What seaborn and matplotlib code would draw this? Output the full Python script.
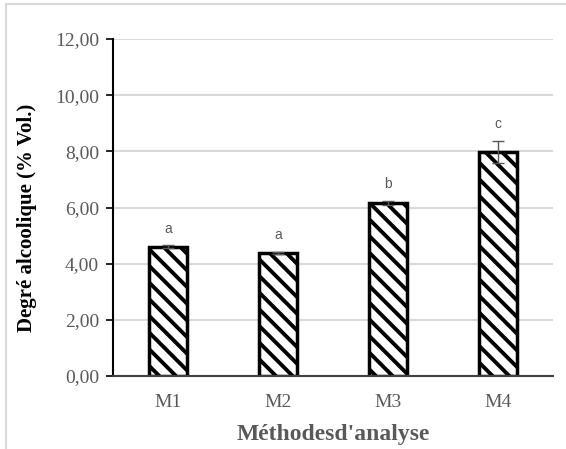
import matplotlib
matplotlib.use("Agg")
import matplotlib.pyplot as plt
from matplotlib.lines import Line2D
import seaborn as sns
import pandas as pd

# Data
methods = ["M1", "M2", "M3", "M4"]
degree = [4.60, 4.38, 6.17, 7.98]
errors = [0.05, 0.05, 0.07, 0.40]
letters = ["a", "a", "b", "c"]
yticks = [0, 2, 4, 6, 8, 10, 12]

sns.set_theme(style="white")
plt.rcParams["font.family"] = ["Liberation Serif", "DejaVu Serif"]
plt.rcParams["hatch.linewidth"] = 2.8
plt.rcParams["hatch.color"] = "black"

fig = plt.figure(figsize=(5.66, 4.49), dpi=100)
ax = fig.add_axes([0.1996, 0.1626, 0.7774, 0.7505])

df = pd.DataFrame({"method": methods, "degree": degree})
sns.barplot(data=df, x="method", y="degree", ax=ax, color="white",
            width=0.35, edgecolor="black", linewidth=2.5, errorbar=None)
for p in ax.patches:
    p.set_hatch("\\\\")
    p.set_facecolor("white")

ax.errorbar(range(len(methods)), degree, yerr=errors, fmt="none",
            ecolor="#595959", elinewidth=1.0, capsize=4, capthick=1.0)

for i, (v, e, lab) in enumerate(zip(degree, errors, letters)):
    ax.text(i, v + e + 0.35, lab, ha="center", va="bottom", fontsize=10,
            color="#595959", family=["Liberation Sans", "DejaVu Sans"])

ax.set_ylim(0, 12)
ax.set_xlim(-0.5, 3.5)
ax.set_yticks(yticks)
ax.set_yticklabels([f"{t:.2f}".replace(".", ",") for t in yticks])
ax.yaxis.grid(True, color="#d9d9d9", linewidth=1.5)
ax.set_axisbelow(True)
ax.tick_params(axis="y", left=True, length=5, width=1.2, color="black",
               labelsize=14, labelcolor="#595959", pad=5)
ax.tick_params(axis="x", bottom=False, labelsize=14, labelcolor="#595959", pad=7)

for s in ["top", "right"]:
    ax.spines[s].set_visible(False)
ax.spines["left"].set_color("black")
ax.spines["left"].set_linewidth(1.5)
ax.spines["bottom"].set_color("#404040")
ax.spines["bottom"].set_linewidth(1.5)

ax.set_ylabel("Degré alcoolique (% Vol.)", fontsize=15, fontweight="bold",
              color="black")
ax.yaxis.set_label_coords(-0.173, 0.47)
ax.set_xlabel("Méthodesd'analyse", fontsize=17, fontweight="bold",
              color="#595959", labelpad=9)

# light frame around the chart (left and top edges visible)
fig.add_artist(Line2D([6 / 566, 6 / 566], [0, 1 - 4 / 449],
                      transform=fig.transFigure, color="#d9d9d9", lw=1.5))
fig.add_artist(Line2D([6 / 566, 1], [1 - 4 / 449, 1 - 4 / 449],
                      transform=fig.transFigure, color="#d9d9d9", lw=1.5))

fig.savefig("out.png", dpi=100)
